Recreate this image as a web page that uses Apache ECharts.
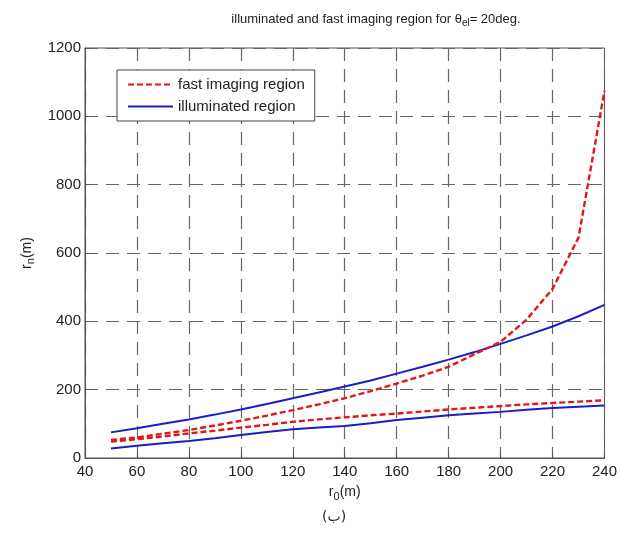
<!DOCTYPE html>
<html>
<head>
<meta charset="utf-8">
<script src="https://cdn.jsdelivr.net/npm/echarts@6/dist/echarts.min.js"></script>
<style>
  html, body { margin: 0; padding: 0; background: #fff; }
  #main { width: 620px; height: 537px; }
</style>
</head>
<body>
<div id="main"></div>
<script>
// r0 (m)
var r0 = [50, 60, 70, 80, 90, 100, 110, 120, 130, 140, 150, 160, 170, 180, 190, 200, 210, 220, 230, 240];
// fast imaging region (upper / lower bound)
var fastUpper = [53, 60, 71, 82, 95, 109, 124, 140, 157, 175, 196, 218, 241, 267, 304, 340, 405, 495, 645, 1075];
var fastLower = [48, 55, 63, 72, 80, 89, 97, 106, 113, 119, 125, 130, 136, 142, 147, 152, 157, 161, 165, 169];
// illuminated region (upper / lower bound)
var illumUpper = [75, 87, 100, 113, 127, 142, 158, 175, 192, 209, 227, 247, 267, 288, 310, 334, 359, 385, 415, 448];
var illumLower = [28, 36, 43, 50, 58, 67, 76, 84, 89, 94, 102, 111, 118, 125, 130, 135, 141, 146, 150, 154];
var names = ['fast imaging region', 'illuminated region'];

function pairs(ys) {
	var out = [];
	for (var i = 0; i < r0.length; i++) out.push([r0[i], ys[i]]);
	return out;
}

var RED = '#e01818', BLUE = '#1c1cc8';
var fastStyle = { color: RED, width: 2.4, type: [6, 3] };
var illumStyle = { color: BLUE, width: 2 };
var gridDash = { color: '#666', width: 1.2, type: [13, 8] };
var FONT = 'Liberation Sans';

var myChart = echarts.init(document.getElementById('main'));

var option = {
	animation: false,
	title: {
		text: '{a|illuminated and fast imaging region for θ}{s|el}{a|= 20deg.}',
		left: 371,
		textAlign: 'center',
		top: 6,
		textStyle: {
			fontWeight: 'normal',
			rich: {
				a: { fontFamily: FONT, fontSize: 13, fontWeight: 'normal', color: '#222' },
				s: { fontFamily: FONT, fontSize: 10, fontWeight: 'normal', color: '#222', padding: [7, 0, 0, 0] }
			}
		}
	},
	legend: {
		data: names,
		orient: 'vertical',
		left: 117,
		top: 70,
		itemWidth: 45,
		itemHeight: 12,
		itemGap: 7,
		padding: [7, 10, 7, 10],
		borderColor: '#444',
		borderWidth: 1,
		backgroundColor: '#fff',
		itemStyle: { opacity: 0 },
		textStyle: { fontFamily: FONT, fontSize: 15, color: '#222' }
	},
	grid: { left: 85, right: 15, top: 48, bottom: 79, show: true, borderColor: '#555', borderWidth: 1, containLabel: false },
	xAxis: {
		type: 'value',
		min: 40, max: 240, interval: 20,
		name: '{a|r}{s|0}{a|(m)}',
		nameLocation: 'middle',
		nameGap: 25,
		nameTextStyle: {
			rich: {
				a: { fontFamily: FONT, fontSize: 14, color: '#222' },
				s: { fontFamily: FONT, fontSize: 11, color: '#222', padding: [8, 0, 0, 0] }
			}
		},
		axisLine: { show: true, lineStyle: { color: '#555' } },
		axisTick: { show: true, inside: true, length: 5, lineStyle: { color: '#555' } },
		axisLabel: { fontFamily: FONT, fontSize: 15, color: '#222', margin: 6 },
		splitLine: { show: true, lineStyle: gridDash }
	},
	yAxis: {
		type: 'value',
		min: 0, max: 1200, interval: 200,
		name: '{a|r}{s|n}{a|(m)}',
		nameLocation: 'middle',
		nameRotate: 90,
		nameGap: 46,
		nameTextStyle: {
			rich: {
				a: { fontFamily: FONT, fontSize: 14, color: '#222' },
				s: { fontFamily: FONT, fontSize: 11, color: '#222', padding: [8, 0, 0, 0] }
			}
		},
		axisLine: { show: true, lineStyle: { color: '#555' } },
		axisTick: { show: true, inside: true, length: 5, lineStyle: { color: '#555' } },
		axisLabel: { fontFamily: FONT, fontSize: 15, color: '#222', margin: 4, formatter: function (v) { return String(v); } },
		splitLine: { show: true, lineStyle: gridDash }
	},
	series: [
		{ name: names[0], type: 'line', data: pairs(fastUpper), symbol: 'none', lineStyle: fastStyle, itemStyle: { color: RED }, z: 3 },
		{ name: names[0], type: 'line', data: pairs(fastLower), symbol: 'none', lineStyle: fastStyle, itemStyle: { color: RED }, z: 3 },
		{ name: names[1], type: 'line', data: pairs(illumUpper), symbol: 'none', lineStyle: illumStyle, itemStyle: { color: BLUE }, z: 2 },
		{ name: names[1], type: 'line', data: pairs(illumLower), symbol: 'none', lineStyle: illumStyle, itemStyle: { color: BLUE }, z: 2 }
	],
	graphic: [
		{
			type: 'text',
			left: 322,
			top: 510,
			style: { text: '(ب)', fontFamily: 'DejaVu Sans', fontSize: 14, fill: '#222' }
		}
	]
};

myChart.setOption(option);
</script>
</body>
</html>
